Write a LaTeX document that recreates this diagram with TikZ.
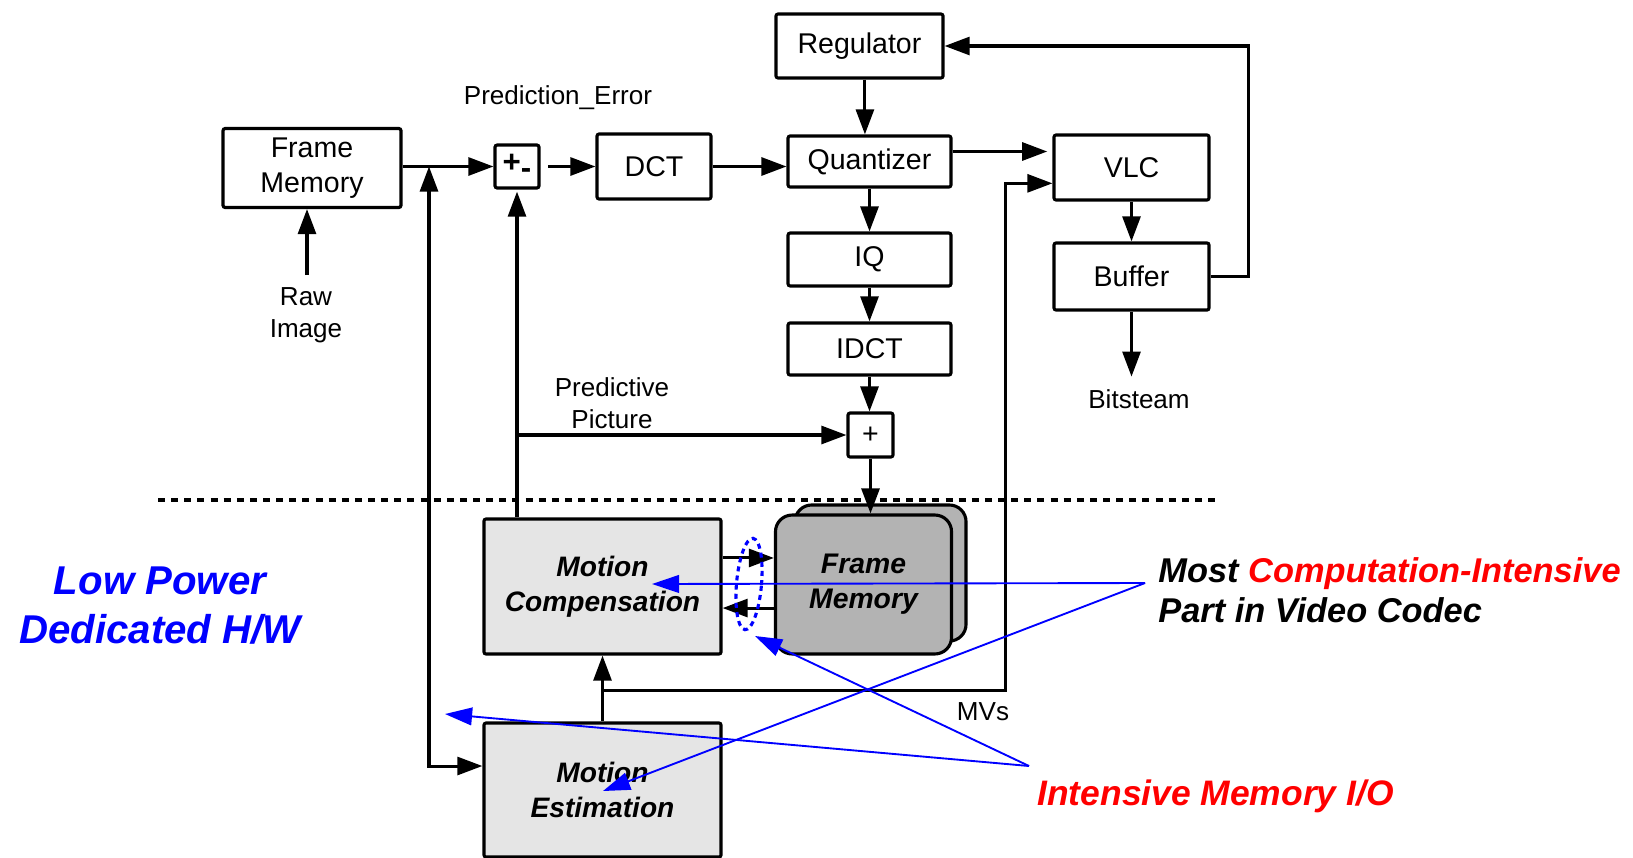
\documentclass[tikz,border=0pt]{standalone}
\usepackage{fontspec}
\setmainfont{Liberation Sans}
\usetikzlibrary{arrows.meta,calc}
\definecolor{lightfill}{RGB}{229,229,229}
\definecolor{memfill}{RGB}{179,179,179}
\definecolor{hwblue}{RGB}{0,0,255}
\definecolor{hotred}{RGB}{255,0,0}

\begin{document}
\begin{tikzpicture}[x=0.48pt,y=-0.48pt,
  blk/.style={draw, line width=1.5pt, rounded corners=1pt, inner sep=0pt,
    align=center, font=\fontsize{13.7}{16.8}\selectfont},
  hwblk/.style={blk, fill=lightfill, font=\fontsize{13.5}{16.6}\selectfont\bfseries\itshape},
  memblk/.style={draw, line width=1.5pt, rounded corners=8pt, inner sep=0pt,
    fill=memfill, align=center, font=\fontsize{13.6}{16.8}\selectfont\bfseries\itshape},
  lbl/.style={inner sep=0pt, align=center, font=\fontsize{12.5}{15.4}\selectfont},
  arr/.style={line width=1.45pt, -{Triangle[length=12pt,width=8.6pt]}},
  arrboth/.style={line width=1.45pt, {Triangle[length=12pt,width=8.6pt]}-{Triangle[length=12pt,width=8.6pt]}},
  callout/.style={hwblue, line width=0.9pt, -{Triangle[length=13pt,width=8.5pt]}},
  note/.style={inner sep=0pt, font=\fontsize{16.5}{19.2}\selectfont\bfseries\itshape},
]
\useasboundingbox (0,0) rectangle (1633,857);

% ---------- encoder blocks ----------
\node[blk, minimum width=85.4pt, minimum height=37.9pt] (fm)   at (312,168) {Frame\\Memory};
\node[blk, minimum width=21.1pt, minimum height=20.6pt,
      font=\fontsize{15}{16}\selectfont\bfseries] (pm) at (517,166.5) {+\raisebox{-3pt}{-}};
\node[blk, minimum width=54.7pt, minimum height=31.2pt] (dct)  at (654,166.5) {DCT};
\node[blk, minimum width=80.2pt, minimum height=30.7pt] (reg)  at (859.5,46) {Regulator};
\node[blk, minimum width=78.2pt, minimum height=24.5pt] (qz)   at (869.5,161.5) {Quantizer};
\node[blk, minimum width=74.4pt, minimum height=31.2pt] (vlc)  at (1131.5,167.5) {VLC};
\node[blk, minimum width=78.2pt, minimum height=25.4pt] (iq)   at (869.5,259.5) {IQ};
\node[blk, minimum width=74.4pt, minimum height=32.2pt] (buf)  at (1131.5,276.5) {Buffer};
\node[blk, minimum width=78.2pt, minimum height=25pt]   (idct) at (869.5,349) {IDCT};
\node[blk, minimum width=21.6pt, minimum height=21.1pt] (add)  at (870.5,435) {+};

% ---------- dedicated hardware blocks ----------
\node[hwblk, minimum width=113.8pt, minimum height=64.8pt] (mc) at (602.5,586.5) {Motion\\Compensation};
\node[memblk, minimum width=82.1pt, minimum height=65.3pt] (fmb) at (880.5,573) {};
\node[memblk, minimum width=84.5pt, minimum height=66.7pt] (fmf) at (863.5,584.5) {Frame\\Memory};
\node[hwblk, minimum width=113.8pt, minimum height=64.3pt] (me) at (602.5,790) {Motion\\Estimation};

% ---------- labels ----------
\node[lbl] (perr) at (558,98) {Prediction\_Error};
\node[lbl] (raw)  at (306,315) {Raw\\Image};
\node[lbl] (pred) at (612,403) {Predictive\\Picture};
\node[lbl] (bits) at (1139,399) {Bitsteam};
\node[lbl] (mvs)  at (983,712) {MVs};
\node[inner sep=0pt, align=center, text=hwblue,
      font=\fontsize{19.3}{23.5}\selectfont\bfseries\itshape] (lowp) at (160,606) {Low Power\\Dedicated H/W};
\node[note, anchor=base west] (most) at (1158,582) {Most \textcolor{hotred}{Computation-Intensive}};
\node[note, anchor=base west] (part) at (1158,622) {Part in Video Codec};
\node[inner sep=0pt, anchor=base west, text=hotred,
      font=\fontsize{17}{20}\selectfont\bfseries\itshape] (mio) at (1037,805) {Intensive Memory I/O};

% ---------- helper points ----------
\coordinate (rawtop) at (307,275);
\coordinate (jl)  at (429,166.5);
\coordinate (jlb) at (429,766);
\coordinate (mvj) at (602.5,690);
\coordinate (mvc) at (1005,690);
\coordinate (fbk) at (1248,46);
\coordinate (sepL) at (158,500);
\coordinate (sepR) at (1219,500);

% ---------- forward path ----------
\draw[arr] (fm.east |- pm.west) -- (pm.west);
\draw[arr, shorten <=3.8pt] (pm.east) -- (pm.east -| dct.west);
\draw[arr] (dct.east) -- (dct.east -| qz.west);
\draw[arr] ([xshift=2.6pt]reg.south) -- ([xshift=2.6pt]reg.south |- qz.north);
\draw[arr, shorten >=2.5pt] ([yshift=4.8pt]qz.east) -- ([yshift=4.8pt]qz.east -| vlc.west);
\draw[arr] (qz.south) -- (qz.south |- iq.north);
\draw[arr] (iq.south) -- (iq.south |- idct.north);
\draw[arr] (idct.south) -- (idct.south |- add.north);
\draw[arr] (add.south) -- (add.south |- fmf.north);
\draw[arr] (vlc.south) -- (vlc.south |- buf.north);
\draw[arr] (buf.south) -- ++(0,65);
\draw[arr] (buf.east) -| (fbk) -- (fbk -| reg.east);
\draw[arr] (rawtop) -- (rawtop |- fm.south);

% ---------- prediction loop ----------
\draw[arrboth] (jl) -- (jlb) -- (jlb -| me.west);
\draw[arr, shorten >=1pt] (pm.south |- mc.north) -- (pm.south);
\draw[arr] (pm.south |- add.west) -- (add.west);
\draw[arr] ([yshift=13.7pt]mc.east) -- ([yshift=13.7pt]mc.east -| fmf.west);
\draw[arr] ([yshift=-11.3pt]fmf.west) -- ([yshift=-11.3pt]fmf.west -| mc.east);
\draw[arr] (me.north) -- (mc.south);
\draw[arr] (mvj) -- (mvc) |- ([yshift=-7.6pt]vlc.west);

% ---------- software / hardware separation ----------
\draw[line width=1.45pt, dash pattern=on 3.4pt off 2.9pt] (sepL) -- (sepR);

% ---------- memory traffic marker ----------
\draw[hwblue, line width=1.5pt, dash pattern=on 2.4pt off 2pt, rotate around={-5:(749,584)}]
  (749,584) ellipse [x radius=6pt, y radius=22pt];

% ---------- callouts ----------
\coordinate (ca) at (1145,583);
\coordinate (cb) at (1029,766);
\coordinate (ta1) at (652,584);
\coordinate (ta2) at (603,791);
\coordinate (tb1) at (445,714);
\coordinate (tb2) at (755,636);
\draw[callout] (ca) -- (ta1);
\draw[callout] (ca) -- (ta2);
\draw[callout] (cb) -- (tb1);
\draw[callout] (cb) -- (tb2);
\end{tikzpicture}
\end{document}
